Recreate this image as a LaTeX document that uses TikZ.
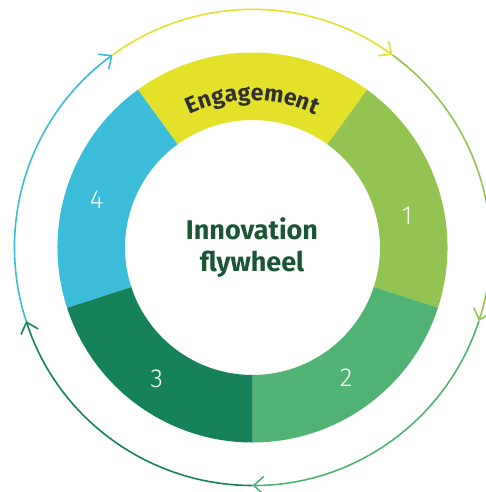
\documentclass[tikz,border=0pt]{standalone}
\usepackage{fontspec}
\setmainfont{Fira Sans}
\newfontfamily\lightsans{Fira Sans Light}
\usetikzlibrary{arrows.meta,decorations.text,calc}
\definecolor{cyel}{HTML}{E4E12B}
\definecolor{cgrA}{HTML}{93C452}
\definecolor{cgrB}{HTML}{51B373}
\definecolor{cdark}{HTML}{15825A}
\definecolor{cblue}{HTML}{3BBCD9}
\definecolor{ctitle}{HTML}{1A5634}
\definecolor{cengt}{HTML}{2F2F2F}
\begin{document}
\begin{tikzpicture}[x=1pt,y=1pt,
  flowarc/.style={line width=1.6pt,-{Straight Barb[length=10pt,width=18pt,line width=1.6pt]}},
  numlabel/.style={text=white,inner sep=0pt,font=\lightsans\fontsize{26}{26}\selectfont},
  titlelabel/.style={text=ctitle,inner sep=0pt,font=\bfseries\fontsize{27}{27}\selectfont}]
\useasboundingbox (0,0) rectangle (485,-492);
\coordinate (C) at (252.5,-247.5);
% ring segments
\foreach \a/\b/\c in {54/126/cyel,-18/54/cgrA,-90/-18/cgrB,-162/-90/cdark,126/198/cblue}{
  \fill[\c] ($(C)+(\a:195)$) arc[start angle=\a,end angle=\b,radius=195]
    -- ($(C)+(\b:127.5)$) arc[start angle=\b,end angle=\a,radius=127.5] -- cycle;
}
% outer arrows
\foreach \a/\b/\c in {126/54/cyel,54/-18/cgrA,-18/-90/cgrB,-90/-162/cdark,-162/-234/cblue}{
  \draw[flowarc,\c] ($(C)+(\a:238)$) arc[start angle=\a,end angle=\b,radius=238];
}
% Engagement along arc
\path[decorate,decoration={text along path,text align=center,
  text={|\bfseries\fontsize{23}{23}\selectfont\color{cengt}|Engagement}}]
  ($(C)+(145:147)$) arc[start angle=145,end angle=35,radius=147];
% numbers
\node[numlabel] (n1) at (407,-216) {1};
\node[numlabel] (n2) at (346,-378) {2};
\node[numlabel] (n3) at (156.7,-379) {3};
\node[numlabel] (n4) at (96.7,-199.3) {4};
% title
\node[titlelabel,anchor=base] (inno) at (252,-239) {Innovation};
\node[titlelabel,anchor=base] (fly) at (252,-271) {flywheel};
\end{tikzpicture}
\end{document}
